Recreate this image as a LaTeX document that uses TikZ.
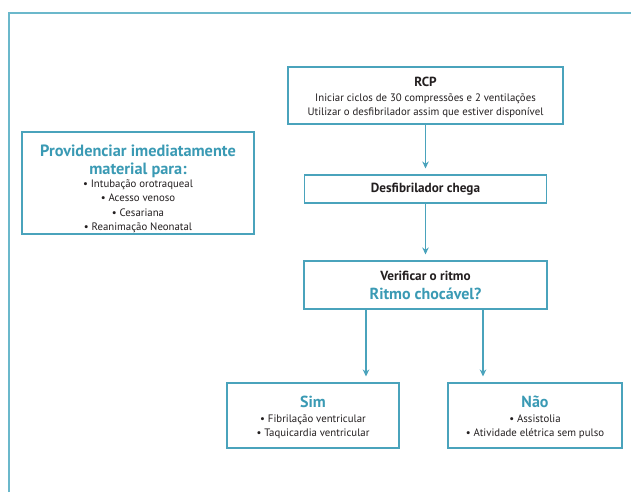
\documentclass[tikz,border=0pt]{standalone}
\usepackage{fontspec}
\setmainfont{PT Sans}
\usetikzlibrary{arrows.meta}
\definecolor{frame}{HTML}{6BB8CB}
\definecolor{boxc}{HTML}{4AA3BC}
\definecolor{tealt}{HTML}{3A9AB4}
\definecolor{ink}{HTML}{231F20}
\tikzset{
  box/.style={draw=boxc, line width=1.1pt, align=center, inner sep=0pt, text=ink, font=\fontsize{10.8}{14.5}\selectfont},
  txt/.style={align=center, inner sep=0pt, text=ink, font=\fontsize{10.8}{14.5}\selectfont},
  conn/.style={draw=boxc, line width=1.1pt, -{Stealth[length=7pt,width=6.5pt]}, shorten >=6pt},
}
\newcommand{\hd}[1]{{\fontsize{13.2}{16}\selectfont\bfseries #1}}
\newcommand{\hdt}[1]{{\fontsize{16}{18}\selectfont\bfseries\color{tealt} #1}}
\newcommand{\hdm}[1]{{\fontsize{16.3}{18}\selectfont\bfseries\color{tealt} #1}}
\begin{document}
\begin{tikzpicture}[x=1pt,y=-1pt]
\useasboundingbox (0,0) rectangle (631,492);
\fill[white] (0,0) rectangle (631,492);
\draw[frame, line width=1.6pt] (9,492) -- (9,13) -- (631,13);
\coordinate (c1) at (366,0);
\coordinate (c2) at (483,0);
\node[box, minimum width=275pt, minimum height=57pt] (rcp) at (425.5,95.5) {};
\node[txt] (rcpt) at (425.5,97.5)
  {\hd{RCP}\\Iniciar ciclos de 30 compressões e 2 ventilações\\Utilizar o desfibrilador assim que estiver disponível};
\node[box, minimum width=242pt, minimum height=28pt] (des) at (425.5,189)
  {\hd{Desfibrilador chega}};
\node[box, minimum width=243pt, minimum height=48pt] (ver) at (425.5,285)
  {\hd{Verificar o ritmo}\\[4.5pt]\hdt{Ritmo chocável?}};
\node[box, minimum width=172pt, minimum height=65pt] (sim) at (313,415.5) {};
\node[txt] (simt) at (313,417.5)
  {\hdt{Sim}\\• Fibrilação ventricular\\• Taquicardia ventricular};
\node[box, minimum width=174pt, minimum height=65pt] (nao) at (535,415.5) {};
\node[txt] (naot) at (535,417.5)
  {\hdt{Não}\\• Assistolia\\• Atividade elétrica sem pulso};
\node[box, minimum width=232pt, minimum height=102pt] (mat) at (138,183) {};
\node[txt] (matt) at (138,189)
  {\hdm{Providenciar imediatamente}\\[3.5pt]\hdm{material para:}\\[-1.5pt]• Intubação orotraqueal\\• Acesso venoso\\• Cesariana\\• Reanimação Neonatal};
\draw[conn] (rcp.south) -- (des.north);
\draw[conn] (des.south) -- (ver.north);
\draw[conn] (ver.south -| c1) -- (sim.north -| c1);
\draw[conn] (ver.south -| c2) -- (nao.north -| c2);
\end{tikzpicture}
\end{document}
